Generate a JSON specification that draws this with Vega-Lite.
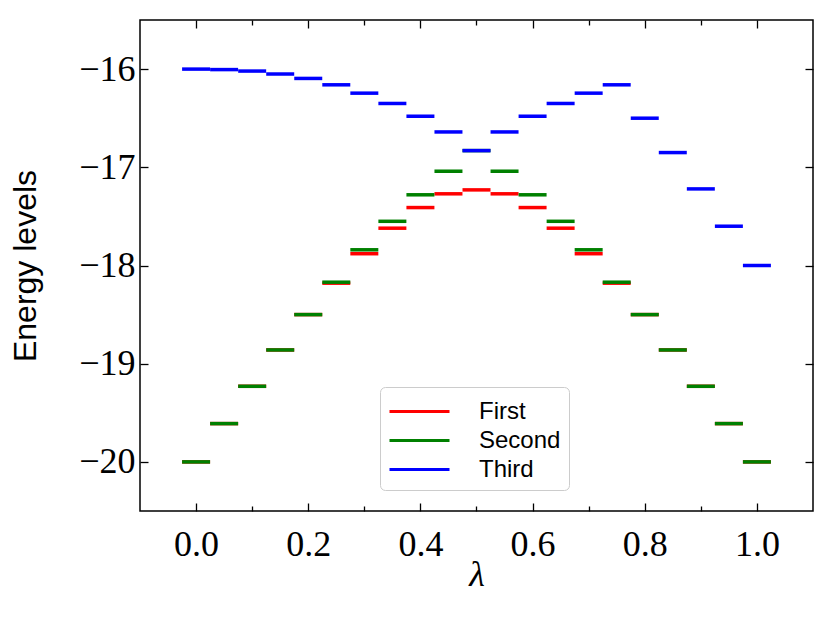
{
  "$schema": "https://vega.github.io/schema/vega-lite/v6.json",
  "width": 673,
  "height": 491,
  "autosize": {"type": "none"},
  "padding": {"left": 140, "top": 20, "right": 17, "bottom": 106},
  "background": "white",
  "config": {
    "view": {"stroke": "black", "strokeWidth": 1.5},
    "axis": {"grid": false, "domain": false, "tickColor": "black", "tickWidth": 1.3, "labelColor": "black", "titleColor": "black"}
  },
  "data": {"values": [
    {"lambda": 0.0, "energy": -20.0, "series": "First"},
    {"lambda": 0.05, "energy": -19.61, "series": "First"},
    {"lambda": 0.1, "energy": -19.23, "series": "First"},
    {"lambda": 0.15, "energy": -18.86, "series": "First"},
    {"lambda": 0.2, "energy": -18.5, "series": "First"},
    {"lambda": 0.25, "energy": -18.18, "series": "First"},
    {"lambda": 0.3, "energy": -17.88, "series": "First"},
    {"lambda": 0.35, "energy": -17.62, "series": "First"},
    {"lambda": 0.4, "energy": -17.41, "series": "First"},
    {"lambda": 0.45, "energy": -17.27, "series": "First"},
    {"lambda": 0.5, "energy": -17.23, "series": "First"},
    {"lambda": 0.55, "energy": -17.27, "series": "First"},
    {"lambda": 0.6, "energy": -17.41, "series": "First"},
    {"lambda": 0.65, "energy": -17.62, "series": "First"},
    {"lambda": 0.7, "energy": -17.88, "series": "First"},
    {"lambda": 0.75, "energy": -18.18, "series": "First"},
    {"lambda": 0.8, "energy": -18.5, "series": "First"},
    {"lambda": 0.85, "energy": -18.86, "series": "First"},
    {"lambda": 0.9, "energy": -19.23, "series": "First"},
    {"lambda": 0.95, "energy": -19.61, "series": "First"},
    {"lambda": 1.0, "energy": -20.0, "series": "First"},
    {"lambda": 0.0, "energy": -20.0, "series": "Second"},
    {"lambda": 0.05, "energy": -19.61, "series": "Second"},
    {"lambda": 0.1, "energy": -19.23, "series": "Second"},
    {"lambda": 0.15, "energy": -18.86, "series": "Second"},
    {"lambda": 0.2, "energy": -18.5, "series": "Second"},
    {"lambda": 0.25, "energy": -18.17, "series": "Second"},
    {"lambda": 0.3, "energy": -17.84, "series": "Second"},
    {"lambda": 0.35, "energy": -17.55, "series": "Second"},
    {"lambda": 0.4, "energy": -17.28, "series": "Second"},
    {"lambda": 0.45, "energy": -17.04, "series": "Second"},
    {"lambda": 0.5, "energy": -16.83, "series": "Second"},
    {"lambda": 0.55, "energy": -17.04, "series": "Second"},
    {"lambda": 0.6, "energy": -17.28, "series": "Second"},
    {"lambda": 0.65, "energy": -17.55, "series": "Second"},
    {"lambda": 0.7, "energy": -17.84, "series": "Second"},
    {"lambda": 0.75, "energy": -18.17, "series": "Second"},
    {"lambda": 0.8, "energy": -18.5, "series": "Second"},
    {"lambda": 0.85, "energy": -18.86, "series": "Second"},
    {"lambda": 0.9, "energy": -19.23, "series": "Second"},
    {"lambda": 0.95, "energy": -19.61, "series": "Second"},
    {"lambda": 1.0, "energy": -20.0, "series": "Second"},
    {"lambda": 0.0, "energy": -16.0, "series": "Third"},
    {"lambda": 0.05, "energy": -16.005, "series": "Third"},
    {"lambda": 0.1, "energy": -16.02, "series": "Third"},
    {"lambda": 0.15, "energy": -16.05, "series": "Third"},
    {"lambda": 0.2, "energy": -16.095, "series": "Third"},
    {"lambda": 0.25, "energy": -16.16, "series": "Third"},
    {"lambda": 0.3, "energy": -16.245, "series": "Third"},
    {"lambda": 0.35, "energy": -16.35, "series": "Third"},
    {"lambda": 0.4, "energy": -16.48, "series": "Third"},
    {"lambda": 0.45, "energy": -16.64, "series": "Third"},
    {"lambda": 0.5, "energy": -16.83, "series": "Third"},
    {"lambda": 0.55, "energy": -16.64, "series": "Third"},
    {"lambda": 0.6, "energy": -16.48, "series": "Third"},
    {"lambda": 0.65, "energy": -16.35, "series": "Third"},
    {"lambda": 0.7, "energy": -16.245, "series": "Third"},
    {"lambda": 0.75, "energy": -16.16, "series": "Third"},
    {"lambda": 0.8, "energy": -16.5, "series": "Third"},
    {"lambda": 0.85, "energy": -16.85, "series": "Third"},
    {"lambda": 0.9, "energy": -17.22, "series": "Third"},
    {"lambda": 0.95, "energy": -17.6, "series": "Third"},
    {"lambda": 1.0, "energy": -18.0, "series": "Third"}
  ]},
  "resolve": {"axis": {"x": "independent", "y": "independent"}},
  "layer": [
    {
      "mark": {"type": "point", "shape": "M-1,0L1,0", "filled": false, "size": 784, "strokeWidth": 3.5, "opacity": 1},
      "encoding": {
        "x": {"field": "lambda", "type": "quantitative",
          "scale": {"domain": [-0.1, 1.1], "nice": false, "zero": false},
          "axis": {"orient": "bottom", "values": [0, 0.2, 0.4, 0.6, 0.8, 1.0], "format": ".1f", "tickSize": -8, "labelPadding": 24,
            "labelFont": "Liberation Serif", "labelFontSize": 36, "labelFontWeight": "normal",
            "title": "λ", "titleFont": "Liberation Serif", "titleFontStyle": "italic", "titleFontWeight": "normal", "titleFontSize": 36, "titlePadding": -5}},
        "y": {"field": "energy", "type": "quantitative",
          "scale": {"domain": [-20.5, -15.5], "nice": false, "zero": false},
          "axis": {"orient": "left", "values": [-20, -19, -18, -17, -16], "format": "d", "tickSize": -8, "labelPadding": 13,
            "labelFont": "Liberation Serif", "labelFontSize": 36,
            "title": "Energy levels", "titleFont": "Liberation Sans", "titleFontWeight": "normal", "titleFontSize": 32, "titlePadding": 36}},
        "color": {"field": "series", "type": "nominal",
          "scale": {"domain": ["First", "Second", "Third"], "range": ["#ff0000", "#008000", "#0000ff"]},
          "legend": {"title": null, "orient": "none", "legendX": 240, "legendY": 367,
            "symbolType": "M-1,0L3,0", "symbolSize": 900, "symbolStrokeWidth": 3, "symbolOpacity": 1,
            "labelFont": "Liberation Sans", "labelFontSize": 24, "labelColor": "black",
            "padding": 8, "rowPadding": 0, "labelOffset": 58,
            "strokeColor": "#cccccc", "fillColor": "white", "cornerRadius": 5}}
      }
    },
    {
      "mark": {"type": "point", "opacity": 0},
      "encoding": {
        "x": {"field": "lambda", "type": "quantitative",
          "axis": {"orient": "top", "values": [0, 0.2, 0.4, 0.6, 0.8, 1.0], "tickSize": -8, "labels": false, "title": null}},
        "y": {"field": "energy", "type": "quantitative",
          "axis": {"orient": "right", "values": [-20, -19, -18, -17, -16], "tickSize": -8, "labels": false, "title": null}}
      }
    },
    {
      "mark": {"type": "point", "opacity": 0},
      "encoding": {
        "x": {"field": "lambda", "type": "quantitative",
          "axis": {"orient": "bottom", "values": [0.1, 0.3, 0.5, 0.7, 0.9], "tickSize": -5, "labels": false, "title": null}},
        "y": {"field": "energy", "type": "quantitative", "axis": null}
      }
    },
    {
      "mark": {"type": "point", "opacity": 0},
      "encoding": {
        "x": {"field": "lambda", "type": "quantitative",
          "axis": {"orient": "top", "values": [0.1, 0.3, 0.5, 0.7, 0.9], "tickSize": -5, "labels": false, "title": null}},
        "y": {"field": "energy", "type": "quantitative", "axis": null}
      }
    }
  ]
}
